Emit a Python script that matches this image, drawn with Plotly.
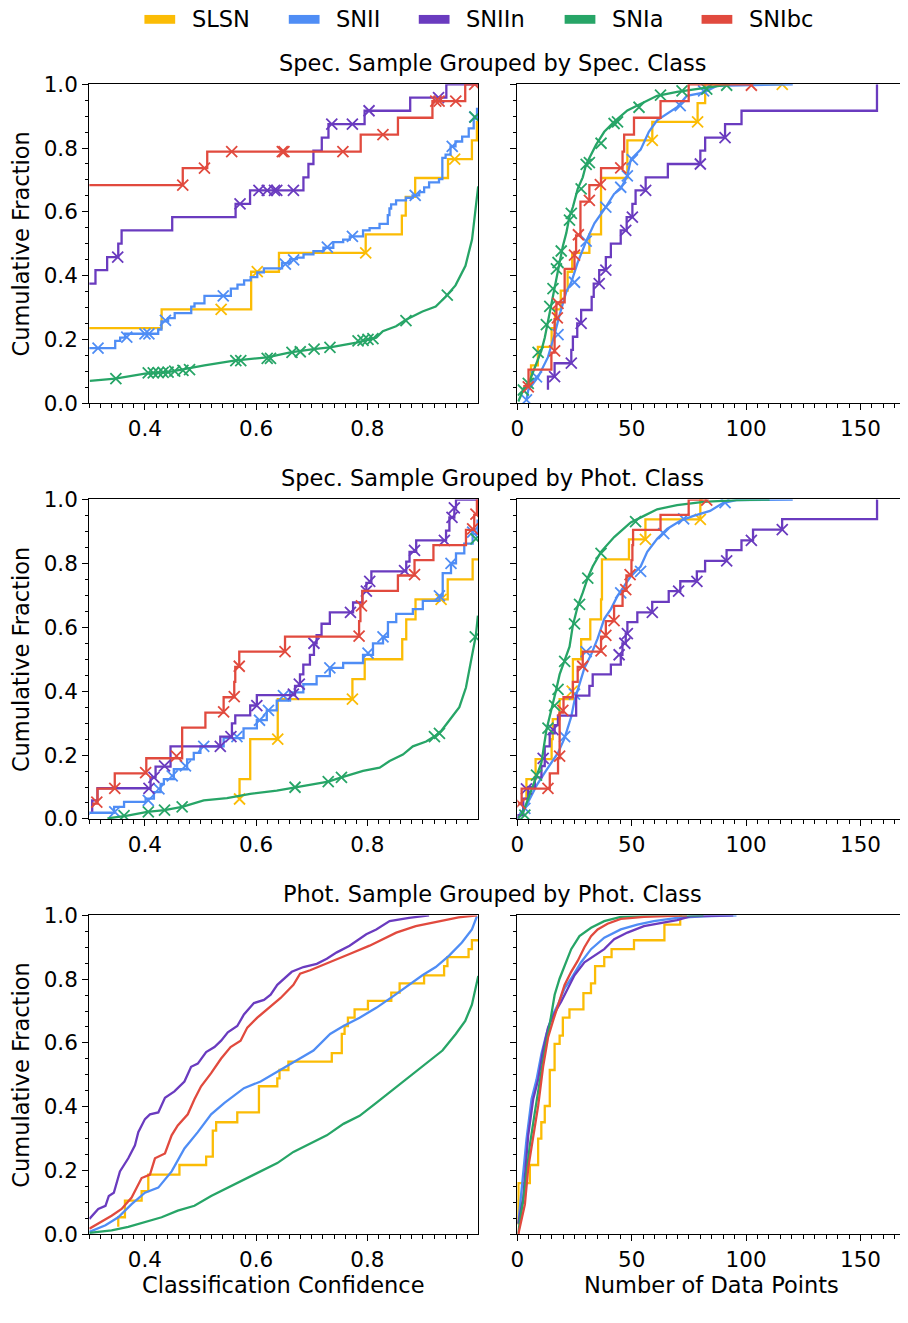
import plotly.graph_objects as go

# ---------------- categories / colours ----------------
CLASSES = ["SLSN", "SNII", "SNIIn", "SNIa", "SNIbc"]
COLORS = {"SLSN": "#FBBC05", "SNII": "#4F8DF5", "SNIIn": "#6A3BBF",
          "SNIa": "#27A567", "SNIbc": "#E14A3E"}
ROW_TITLES = ["Spec. Sample Grouped by Spec. Class",
              "Spec. Sample Grouped by Phot. Class",
              "Phot. Sample Grouped by Phot. Class"]
X_TITLES = ["Classification Confidence", "Number of Data Points"]
Y_TITLE = "Cumulative Fraction"
Y_TICKS = [0.0, 0.2, 0.4, 0.6, 0.8, 1.0]
CONF_TICKS = [0.4, 0.6, 0.8]
NPTS_TICKS = [0, 50, 100, 150]

# ================= Row 1, confidence (spec sample / spec class) =================
r1c_SLSN_x = [0.28, 0.430, 0.591, 0.591, 0.641, 0.797, 0.862, 0.869, 0.886, 0.945, 0.988, 0.997, 0.9995]
r1c_SLSN_y = [0.176, 0.235, 0.294, 0.353, 0.412, 0.471, 0.529, 0.588, 0.647, 0.706, 0.765, 0.824, 0.882]
r1c_SLSN_mx = [0.537, 0.602, 0.797, 0.957]
r1c_SLSN_my = [0.294, 0.412, 0.471, 0.765]

r1c_SNII_x = [0.28, 0.3465, 0.3554, 0.3643, 0.4238, 0.4297, 0.4416, 0.4535, 0.4832, 0.4891, 0.5070, 0.5545,
              0.5664, 0.5783, 0.5901, 0.6020, 0.6139, 0.6466, 0.6614, 0.6733, 0.6852, 0.7030, 0.7209, 0.7387,
              0.7565, 0.7684, 0.7922, 0.8040, 0.8219, 0.8367, 0.8397, 0.8427, 0.8516, 0.8694, 0.8813, 0.8932,
              0.9021, 0.9110, 0.9288, 0.9348, 0.9407, 0.9496, 0.9585, 0.9704, 0.9823, 0.9912, 0.9972, 0.9995]
r1c_SNII_y = [0.16, 0.1723, 0.1949, 0.2051, 0.2174, 0.2308, 0.2564, 0.2667, 0.2821, 0.3026, 0.3128, 0.3364,
              0.3590, 0.3713, 0.3846, 0.3949, 0.4103, 0.4226, 0.4390, 0.4513, 0.4564, 0.4667, 0.4769, 0.4872,
              0.5046, 0.5128, 0.5231, 0.5415, 0.5487, 0.5621, 0.5897, 0.6103, 0.6236, 0.6359, 0.6441, 0.6513,
              0.6615, 0.6769, 0.6923, 0.7026, 0.7692, 0.7795, 0.8051, 0.8205, 0.8359, 0.8615, 0.8923, 0.9231]
r1c_SNII_mx = [0.3156, 0.3673, 0.4, 0.4071, 0.4368, 0.5408, 0.6525, 0.6674, 0.7280, 0.7731, 0.8860, 0.9526, 0.9930]
r1c_SNII_my = [0.1723, 0.2072, 0.2174, 0.2174, 0.2595, 0.3364, 0.4359, 0.4492, 0.4892, 0.5231, 0.6513, 0.8051, 0.8974]

r1c_SNIIn_x = [0.28, 0.311, 0.332, 0.352, 0.358, 0.449, 0.563, 0.589, 0.685, 0.694, 0.703, 0.718, 0.730,
               0.795, 0.877, 0.942, 0.9995]
r1c_SNIIn_y = [0.333, 0.375, 0.417, 0.458, 0.5, 0.542, 0.583, 0.625, 0.667, 0.708, 0.75, 0.792, 0.833,
               0.875, 0.917, 0.958, 1.0]
r1c_SNIIn_mx = [0.351, 0.571, 0.605, 0.620, 0.633, 0.637, 0.667, 0.736, 0.773, 0.803, 0.928]
r1c_SNIIn_my = [0.458, 0.625, 0.667, 0.667, 0.667, 0.667, 0.667, 0.875, 0.875, 0.917, 0.958]

r1c_SNIa_x = [0.3008, 0.3465, 0.4, 0.4416, 0.5070, 0.5604, 0.6198, 0.6614, 0.7030, 0.7327, 0.7803, 0.8159,
              0.8278, 0.8516, 0.8694, 0.8991, 0.9229, 0.9407, 0.9585, 0.9764, 0.9882, 0.9941, 0.9977, 0.9993]
r1c_SNIa_y = [0.0697, 0.0769, 0.0923, 0.0974, 0.1179, 0.1333, 0.1436, 0.1590, 0.1692, 0.1744, 0.1897, 0.2051,
              0.2256, 0.2410, 0.2615, 0.2872, 0.3026, 0.3333, 0.3692, 0.4308, 0.5128, 0.5949, 0.6564, 0.68]
r1c_SNIa_mx = [0.3477, 0.4059, 0.4149, 0.4238, 0.4327, 0.4416, 0.4535, 0.4683, 0.4802, 0.5634, 0.5723,
               0.6198, 0.6258, 0.6644, 0.6793, 0.7042, 0.7327, 0.7832, 0.7922, 0.8011, 0.8100, 0.8694,
               0.9437, 0.9935]
r1c_SNIa_my = [0.0769, 0.0944, 0.0944, 0.0954, 0.0964, 0.0974, 0.1005, 0.1026, 0.1046, 0.1333, 0.1333,
               0.1405, 0.1405, 0.1590, 0.1610, 0.1692, 0.1744, 0.1949, 0.1969, 0.2000, 0.2021, 0.2585,
               0.3385, 0.897]

r1c_SNIbc_x = [0.28, 0.468, 0.512, 0.788, 0.855, 0.917, 0.976, 0.9995]
r1c_SNIbc_y = [0.632, 0.684, 0.737, 0.789, 0.842, 0.895, 0.947, 1.0]
r1c_SNIbc_mx = [0.468, 0.507, 0.556, 0.647, 0.650, 0.756, 0.828, 0.923, 0.929, 0.959, 0.993]
r1c_SNIbc_my = [0.684, 0.737, 0.789, 0.789, 0.789, 0.789, 0.842, 0.947, 0.947, 0.947, 1.0]

# ================= Row 1, number of points =================
r1n_SLSN_x = [3.5, 6.0, 9.0, 15.0, 16.5, 19.0, 22.0, 24.0, 31.5, 36.6, 36.6, 36.6, 48.1, 48.1, 59.0, 78.8, 82.1, 115.8]
r1n_SLSN_y = [0.059, 0.059, 0.118, 0.176, 0.235, 0.294, 0.353, 0.412, 0.471, 0.529, 0.588, 0.647, 0.706,
              0.765, 0.824, 0.882, 0.941, 1.0]
r1n_SLSN_mx = [59.0, 78.8, 115.8]
r1n_SLSN_my = [0.824, 0.882, 1.0]

r1n_SNII_x = [4.0, 4.8, 9.1, 13.4, 16.3, 18.5, 21.4, 23.6, 26.4, 30.1, 33.7, 38.7, 42.3, 45.2, 48.1, 49.6,
              53.9, 57.5, 61.1, 65.5, 69.8, 74.1, 81.4, 87.1, 120.4]
r1n_SNII_y = [0.01, 0.041, 0.082, 0.144, 0.215, 0.277, 0.349, 0.379, 0.441, 0.508, 0.564, 0.615, 0.656,
              0.672, 0.713, 0.764, 0.795, 0.851, 0.887, 0.908, 0.928, 0.964, 0.974, 0.995, 1.0]
r1n_SNII_mx = [4.0, 8.4, 17.8, 25.0, 30.1, 38.7, 45.2, 48.1, 50.3, 71.2, 81.4]
r1n_SNII_my = [0.01, 0.082, 0.215, 0.379, 0.508, 0.615, 0.677, 0.713, 0.764, 0.933, 0.979]

r1n_SNIIn_x = [13.4, 16.3, 23.6, 24.3, 26.2, 27.9, 32.5, 33.4, 35.8, 38.7, 40.9, 45.2, 47.8, 50.3, 51.7,
               56.1, 65.8, 80.0, 82.1, 90.8, 98.0, 157.2, 157.2, 157.2]
r1n_SNIIn_y = [0.042, 0.083, 0.125, 0.167, 0.208, 0.25, 0.292, 0.333, 0.375, 0.417, 0.458, 0.5, 0.542,
               0.583, 0.625, 0.667, 0.708, 0.75, 0.792, 0.833, 0.875, 0.917, 0.958, 1.0]
r1n_SNIIn_mx = [16.3, 23.6, 27.9, 35.8, 38.7, 47.4, 50.3, 56.1, 80.0, 90.8]
r1n_SNIIn_my = [0.083, 0.125, 0.25, 0.375, 0.417, 0.542, 0.583, 0.667, 0.75, 0.833]

r1n_SNIa_x = [0.43, 2.6, 5.5, 8.4, 10.5, 12.0, 13.4, 14.9, 16.3, 17.5, 18.5, 19.9, 21.4, 22.8, 24.3, 26.4,
              28.6, 30.1, 31.5, 34.4, 38.0, 42.3, 48.1, 53.9, 61.1, 69.8, 78.5, 87.1, 92.9]
r1n_SNIa_y = [0.005, 0.041, 0.072, 0.128, 0.164, 0.205, 0.256, 0.308, 0.359, 0.41, 0.451, 0.492, 0.533,
              0.585, 0.615, 0.672, 0.708, 0.749, 0.769, 0.81, 0.851, 0.882, 0.918, 0.938, 0.964, 0.976,
              0.985, 0.993, 1.0]
r1n_SNIa_mx = [2.6, 4.8, 9.1, 12.7, 14.2, 15.6, 17.1, 17.8, 19.2, 22.8, 23.6, 27.9, 30.1, 31.5, 36.6,
               42.3, 43.8, 53.2, 62.6, 72.0, 82.8, 91.5]
r1n_SNIa_my = [0.041, 0.062, 0.159, 0.246, 0.303, 0.359, 0.421, 0.441, 0.477, 0.574, 0.595, 0.672, 0.749,
               0.754, 0.815, 0.877, 0.882, 0.928, 0.966, 0.979, 0.985, 0.997]

r1n_SNIbc_x = [2.6, 4.9, 14.9, 16.3, 16.3, 17.1, 20.7, 20.7, 25.0, 25.7, 27.6, 27.6, 31.5, 36.6, 46.0,
               46.7, 51.0, 62.6, 74.9, 102.3]
r1n_SNIbc_y = [0.053, 0.053, 0.105, 0.158, 0.211, 0.263, 0.316, 0.368, 0.421, 0.474, 0.526, 0.579, 0.632,
               0.684, 0.737, 0.789, 0.842, 0.895, 0.947, 1.0]
r1n_SNIbc_mx = [4.8, 16.3, 17.5, 17.8, 25.0, 26.7, 31.5, 36.3, 45.2, 102.3]
r1n_SNIbc_my = [0.051, 0.164, 0.267, 0.313, 0.464, 0.528, 0.636, 0.685, 0.738, 0.997]

# ================= Row 2, confidence (spec sample / phot class) =================
r2c_SLSN_x = [0.5701, 0.5893, 0.5893, 0.6388, 0.6388, 0.7731, 0.7952, 0.8627, 0.8699, 0.8866, 0.9445, 0.9893, 0.9995]
r2c_SLSN_y = [0.0625, 0.125, 0.1875, 0.25, 0.3125, 0.375, 0.4375, 0.5, 0.5625, 0.625, 0.6875, 0.75, 0.8125]
r2c_SLSN_mx = [0.5701, 0.6388, 0.7731, 0.9326]
r2c_SLSN_my = [0.0625, 0.25, 0.375, 0.6875]

r2c_SNII_x = [0.299, 0.3445, 0.3624, 0.4012, 0.4161, 0.4281, 0.4340, 0.4519, 0.4758, 0.4878, 0.4997, 0.5415,
              0.5773, 0.6012, 0.6191, 0.6370, 0.6609, 0.6848, 0.7087, 0.7325, 0.7564, 0.7922, 0.8101, 0.8281,
              0.8370, 0.8519, 0.8818, 0.8997, 0.9296, 0.9355, 0.9504, 0.9594, 0.9743, 0.9893, 0.9982, 0.9995]
r2c_SNII_y = [0.0123, 0.0194, 0.0379, 0.0532, 0.0635, 0.0839, 0.1095, 0.1249, 0.1556, 0.1863, 0.2068, 0.2272,
              0.2528, 0.2835, 0.3091, 0.3398, 0.3705, 0.3961, 0.4217, 0.4473, 0.4729, 0.4882, 0.5138, 0.5496,
              0.5701, 0.6162, 0.6418, 0.6571, 0.6827, 0.6981, 0.7697, 0.8004, 0.8311, 0.8618, 0.8925, 0.9335]
r2c_SNII_mx = [0.3457, 0.406, 0.4251, 0.449, 0.4728, 0.5057, 0.5654, 0.606, 0.6221, 0.649, 0.7325, 0.8012,
               0.8281, 0.9296, 0.9504, 0.9893]
r2c_SNII_my = [0.0225, 0.058, 0.094, 0.135, 0.166, 0.227, 0.258, 0.309, 0.34, 0.386, 0.473, 0.519, 0.57,
               0.698, 0.8, 0.898]

r2c_SNIIn_x = [0.3051, 0.3146, 0.4101, 0.4191, 0.4460, 0.5355, 0.5564, 0.5624, 0.5893, 0.6012, 0.6699, 0.6788,
               0.6848, 0.6967, 0.7039, 0.7087, 0.7176, 0.7325, 0.7743, 0.7910, 0.7982, 0.8072, 0.8699, 0.8758,
               0.8878, 0.9415, 0.9475, 0.9564, 0.9594, 0.9995]
r2c_SNIIn_y = [0.0225, 0.0583, 0.0962, 0.1300, 0.1638, 0.2272, 0.2579, 0.2989, 0.3245, 0.3552, 0.3879, 0.4166,
               0.4524, 0.4831, 0.5138, 0.5496, 0.5752, 0.6111, 0.6469, 0.6776, 0.7134, 0.7390, 0.7748, 0.8055,
               0.8362, 0.8721, 0.9028, 0.9437, 0.9744, 1.0]
r2c_SNIIn_mx = [0.4072, 0.4161, 0.4352, 0.5355, 0.5546, 0.6012, 0.6669, 0.6776, 0.7039, 0.7696, 0.7982,
                0.8042, 0.8669, 0.8848, 0.9385, 0.9522, 0.9564]
r2c_SNIIn_my = [0.096, 0.130, 0.166, 0.227, 0.258, 0.355, 0.391, 0.422, 0.550, 0.647, 0.713, 0.744, 0.777,
                0.841, 0.872, 0.944, 0.974]

r2c_SNIa_x = [0.3325, 0.3684, 0.4042, 0.4352, 0.4669, 0.5057, 0.5475, 0.5893, 0.6370, 0.6699, 0.7087, 0.7296,
              0.7534, 0.7922, 0.8221, 0.8400, 0.8639, 0.8818, 0.9057, 0.9296, 0.9475, 0.9654, 0.9773, 0.9893,
              0.9952, 0.9988]
r2c_SNIa_y = [0.002, 0.0102, 0.0225, 0.0276, 0.0379, 0.0583, 0.0655, 0.0788, 0.0890, 0.0993, 0.1095, 0.1167,
              0.1300, 0.1505, 0.1607, 0.1812, 0.2016, 0.2272, 0.2426, 0.2682, 0.3091, 0.3501, 0.4115, 0.5138,
              0.5752, 0.6366]
r2c_SNIa_mx = [0.3624, 0.406, 0.4352, 0.4669, 0.6699, 0.7296, 0.7534, 0.9206, 0.9296, 0.994, 0.9952]
r2c_SNIa_my = [0.0102, 0.0225, 0.0276, 0.0379, 0.0993, 0.1167, 0.13, 0.2579, 0.2682, 0.5701, 0.877]

r2c_SNIbc_x = [0.305, 0.3146, 0.3457, 0.4024, 0.4669, 0.4669, 0.5087, 0.5415, 0.5606, 0.5624, 0.5696, 0.6519,
               0.7851, 0.7875, 0.7910, 0.8549, 0.8848, 0.9188, 0.9773, 0.9922, 0.9970, 0.9995]
r2c_SNIbc_y = [0.048, 0.048, 0.095, 0.143, 0.190, 0.238, 0.286, 0.333, 0.381, 0.429, 0.476, 0.524, 0.571,
               0.619, 0.667, 0.714, 0.762, 0.810, 0.857, 0.905, 0.952, 1.0]
r2c_SNIbc_mx = [0.3134, 0.3457, 0.4012, 0.4567, 0.5415, 0.5606, 0.5696, 0.6519, 0.7851, 0.7893, 0.8848,
                0.9893, 0.9952]
r2c_SNIbc_my = [0.053, 0.096, 0.145, 0.197, 0.335, 0.383, 0.478, 0.524, 0.572, 0.667, 0.765, 0.908, 0.954]

# ================= Row 2, number of points =================
r2n_SLSN_x = [3.0, 4.0, 8.0, 15.0, 15.5, 18.5, 24.3, 24.3, 27.9, 31.9, 36.6, 37.0, 37.0, 48.8, 56.0, 80.0, 81.0]
r2n_SLSN_y = [0.0625, 0.0625, 0.125, 0.1875, 0.25, 0.3125, 0.375, 0.4375, 0.5, 0.5625, 0.625, 0.6875, 0.75,
              0.8125, 0.875, 0.9375, 1.0]
r2n_SLSN_mx = [24.0, 56.0, 80.0]
r2n_SLSN_my = [0.40, 0.875, 0.9375]

r2n_SNII_x = [1.16, 3.32, 5.49, 8.38, 11.99, 14.88, 17.77, 20.66, 23.55, 25.0, 27.17, 29.34, 32.23, 35.12,
              38.01, 40.9, 43.79, 46.68, 49.57, 53.9, 56.79, 61.13, 65.46, 71.24, 77.02, 84.25, 90.03, 95.81, 120.38]
r2n_SNII_y = [0.0072, 0.0328, 0.0635, 0.1044, 0.1453, 0.1760, 0.2068, 0.2528, 0.3193, 0.3705, 0.4217, 0.4729,
              0.5138, 0.5650, 0.6264, 0.6571, 0.6981, 0.7288, 0.7595, 0.7902, 0.8362, 0.8772, 0.9079, 0.9335,
              0.9488, 0.9642, 0.9898, 0.998, 1.0]
r2n_SNII_mx = [3.3, 20.7, 25.0, 30.1, 45.2, 53.9, 64.0, 72.7, 90.8]
r2n_SNII_my = [0.033, 0.258, 0.391, 0.524, 0.708, 0.775, 0.893, 0.939, 0.99]

r2n_SNIIn_x = [0.43, 2.6, 4.77, 7.66, 10.55, 11.99, 14.16, 16.33, 17.77, 25.72, 31.5, 32.95, 40.9, 45.23,
               45.95, 47.4, 48.12, 52.46, 58.96, 66.18, 71.24, 78.47, 82.08, 91.47, 97.98, 103.03, 115.75,
               157.23, 157.4]
r2n_SNIIn_y = [0.0, 0.0123, 0.0635, 0.0993, 0.13, 0.1658, 0.2272, 0.2682, 0.2938, 0.3234, 0.3859, 0.4166,
               0.4524, 0.4831, 0.5138, 0.5496, 0.5804, 0.6162, 0.6469, 0.6796, 0.7134, 0.7441, 0.7748, 0.8076,
               0.8414, 0.8721, 0.9058, 0.9386, 1.0]
r2n_SNIIn_mx = [4.0, 11.3, 15.6, 44.5, 47.0, 48.1, 59.0, 70.5, 78.5, 91.5, 102.3, 115.8]
r2n_SNIIn_my = [0.094, 0.19, 0.28, 0.514, 0.55, 0.58, 0.647, 0.713, 0.744, 0.808, 0.872, 0.906]

r2n_SNIa_x = [0.43, 2.6, 4.77, 8.38, 10.55, 12.72, 14.88, 17.05, 18.5, 20.66, 22.83, 24.28, 26.45, 28.61,
              30.78, 32.95, 36.56, 42.34, 49.57, 55.35, 61.13, 69.8, 81.36, 95.81, 110.26]
r2n_SNIa_y = [0.002, 0.0225, 0.0635, 0.1351, 0.176, 0.2784, 0.3398, 0.4063, 0.4524, 0.4985, 0.5394, 0.6059,
              0.6674, 0.7083, 0.7544, 0.7902, 0.8362, 0.8823, 0.9284, 0.9488, 0.9693, 0.9826, 0.9928, 0.998, 1.0]
r2n_SNIa_mx = [3.3, 8.4, 13.4, 16.3, 17.8, 20.7, 25.0, 27.2, 30.8, 36.6, 51.7]
r2n_SNIa_my = [0.012, 0.137, 0.284, 0.355, 0.406, 0.493, 0.611, 0.672, 0.754, 0.831, 0.931]

r2n_SNIbc_x = [0.4, 1.9, 14.2, 17.8, 18.5, 18.5, 18.5, 20.2, 24.3, 26.4, 28.6, 36.6, 38.7, 42.3, 46.0, 47.7,
               49.9, 50.3, 50.6, 62.6, 74.9, 82.8]
r2n_SNIbc_y = [0.048, 0.048, 0.095, 0.143, 0.190, 0.238, 0.286, 0.333, 0.381, 0.429, 0.476, 0.524, 0.571,
               0.619, 0.667, 0.714, 0.762, 0.810, 0.857, 0.905, 0.952, 1.0]
r2n_SNIbc_mx = [1.2, 13.4, 18.5, 19.9, 28.6, 36.6, 38.7, 42.3, 47.4, 49.3, 82.8]
r2n_SNIbc_my = [0.048, 0.096, 0.197, 0.340, 0.478, 0.526, 0.575, 0.621, 0.718, 0.765, 0.998]

# ================= Row 3, confidence (phot sample / phot class) =================
r3c_SLSN_x = [0.352, 0.364, 0.394, 0.406, 0.462, 0.51, 0.522, 0.528, 0.566, 0.605, 0.638, 0.642, 0.658, 0.736,
              0.754, 0.759, 0.765, 0.777, 0.801, 0.843, 0.858, 0.902, 0.938, 0.944, 0.982, 0.988, 0.9995]
r3c_SLSN_y = [0.023, 0.053, 0.105, 0.135, 0.187, 0.217, 0.243, 0.325, 0.351, 0.382, 0.464, 0.489, 0.515,
              0.541, 0.568, 0.628, 0.653, 0.679, 0.705, 0.732, 0.758, 0.787, 0.812, 0.841, 0.869, 0.894, 0.922]

r3c_SNII_x = [0.3, 0.329, 0.352, 0.376, 0.4, 0.424, 0.448, 0.471, 0.495, 0.519, 0.543, 0.578, 0.608, 0.638,
              0.667, 0.703, 0.733, 0.757, 0.786, 0.816, 0.846, 0.875, 0.899, 0.923, 0.947, 0.97, 0.988, 0.997]
r3c_SNII_y = [0.007, 0.028, 0.053, 0.094, 0.13, 0.146, 0.197, 0.269, 0.32, 0.376, 0.412, 0.458, 0.479, 0.51,
              0.541, 0.576, 0.628, 0.653, 0.679, 0.71, 0.746, 0.782, 0.812, 0.838, 0.874, 0.915, 0.956, 0.997]

r3c_SNIIn_x = [0.3, 0.316, 0.329, 0.335, 0.344, 0.355, 0.37, 0.382, 0.388, 0.4, 0.409, 0.424, 0.436, 0.453,
               0.471, 0.483, 0.495, 0.51, 0.525, 0.537, 0.549, 0.566, 0.578, 0.596, 0.614, 0.626, 0.638, 0.653,
               0.664, 0.685, 0.709, 0.727, 0.745, 0.768, 0.786, 0.798, 0.816, 0.84, 0.875, 0.911]
r3c_SNIIn_y = [0.048, 0.079, 0.089, 0.12, 0.13, 0.197, 0.238, 0.279, 0.32, 0.361, 0.376, 0.382, 0.428, 0.448,
               0.479, 0.525, 0.535, 0.571, 0.587, 0.607, 0.633, 0.653, 0.689, 0.725, 0.735, 0.751, 0.782, 0.807,
               0.823, 0.838, 0.848, 0.864, 0.884, 0.905, 0.925, 0.941, 0.956, 0.982, 0.992, 1.0]

r3c_SNIa_x = [0.3, 0.34, 0.37, 0.4, 0.43, 0.459, 0.489, 0.519, 0.549, 0.578, 0.608, 0.638, 0.667, 0.697,
              0.727, 0.757, 0.786, 0.816, 0.846, 0.875, 0.905, 0.935, 0.959, 0.976, 0.988, 0.994, 0.9995]
r3c_SNIa_y = [0.004, 0.012, 0.023, 0.038, 0.053, 0.074, 0.089, 0.12, 0.146, 0.171, 0.199, 0.223, 0.258, 0.284,
              0.31, 0.346, 0.371, 0.412, 0.453, 0.494, 0.535, 0.576, 0.628, 0.669, 0.72, 0.77, 0.81]

r3c_SNIbc_x = [0.3, 0.316, 0.34, 0.358, 0.376, 0.394, 0.409, 0.418, 0.436, 0.448, 0.459, 0.477, 0.489, 0.501,
               0.519, 0.537, 0.554, 0.572, 0.584, 0.602, 0.62, 0.644, 0.667, 0.679, 0.697, 0.733, 0.768, 0.804,
               0.828, 0.852, 0.887, 0.923, 0.964, 0.997]
r3c_SNIbc_y = [0.017, 0.033, 0.058, 0.079, 0.115, 0.176, 0.187, 0.238, 0.253, 0.31, 0.341, 0.376, 0.423,
               0.464, 0.505, 0.551, 0.587, 0.607, 0.648, 0.679, 0.705, 0.741, 0.782, 0.817, 0.828, 0.853,
               0.879, 0.905, 0.925, 0.946, 0.966, 0.979, 0.994, 1.0]

# ================= Row 3, number of points =================
r3n_SLSN_x = [0.4, 0.5, 5.5, 9.1, 10.5, 12.0, 14.2, 16.3, 18.5, 19.9, 22.8, 28.9, 32.2, 34.0, 38.0, 41.2,
              51.0, 64.3, 71.2, 72.0]
r3n_SLSN_y = [0.03, 0.105, 0.16, 0.217, 0.3, 0.351, 0.402, 0.515, 0.597, 0.623, 0.679, 0.705, 0.756, 0.787,
              0.841, 0.869, 0.894, 0.922, 0.971, 1.0]

r3n_SNII_x = [0.43, 1.88, 4.05, 6.22, 8.38, 10.55, 12.72, 14.88, 17.77, 20.66, 23.55, 27.89, 32.23, 38.01,
              45.23, 52.46, 59.68, 69.8, 81.36, 95.81]
r3n_SNII_y = [0.033, 0.146, 0.3, 0.423, 0.484, 0.566, 0.628, 0.679, 0.72, 0.771, 0.802, 0.853, 0.894, 0.93,
              0.956, 0.971, 0.982, 0.992, 0.997, 1.0]

r3n_SNIIn_x = [0.43, 2.6, 4.77, 6.94, 9.1, 11.27, 13.44, 16.33, 19.22, 22.11, 25.0, 29.34, 33.67, 38.01,
               42.34, 48.12, 55.35, 62.57, 69.8, 75.58, 94.36]
r3n_SNIIn_y = [0.033, 0.115, 0.31, 0.423, 0.484, 0.576, 0.648, 0.694, 0.73, 0.771, 0.812, 0.853, 0.874, 0.894,
               0.925, 0.946, 0.966, 0.976, 0.985, 0.997, 1.0]

r3n_SNIa_x = [0.43, 1.16, 2.6, 4.05, 5.49, 7.66, 9.83, 11.99, 14.16, 16.33, 18.5, 20.66, 23.55, 27.17, 32.23,
              38.01, 45.23, 59.68, 81.36]
r3n_SNIa_y = [0.002, 0.043, 0.105, 0.197, 0.279, 0.382, 0.484, 0.576, 0.658, 0.751, 0.802, 0.843, 0.894,
              0.935, 0.961, 0.982, 0.995, 0.999, 1.0]

r3n_SNIbc_x = [0.43, 1.88, 3.32, 4.77, 6.94, 9.1, 11.27, 13.44, 15.61, 18.5, 20.66, 23.55, 26.45, 29.34,
               32.23, 35.12, 39.45, 45.23, 55.35, 74.13]
r3n_SNIbc_y = [0.0, 0.053, 0.094, 0.207, 0.3, 0.402, 0.525, 0.617, 0.669, 0.73, 0.782, 0.823, 0.858, 0.9,
               0.935, 0.956, 0.974, 0.989, 0.995, 1.0]

# ---------------- assemble panels ----------------
PANELS = [
    ("r1c", {"SLSN": (r1c_SLSN_x, r1c_SLSN_y, r1c_SLSN_mx, r1c_SLSN_my, "vh"),
             "SNII": (r1c_SNII_x, r1c_SNII_y, r1c_SNII_mx, r1c_SNII_my, "vh"),
             "SNIIn": (r1c_SNIIn_x, r1c_SNIIn_y, r1c_SNIIn_mx, r1c_SNIIn_my, "vh"),
             "SNIa": (r1c_SNIa_x, r1c_SNIa_y, r1c_SNIa_mx, r1c_SNIa_my, "linear"),
             "SNIbc": (r1c_SNIbc_x, r1c_SNIbc_y, r1c_SNIbc_mx, r1c_SNIbc_my, "vh")}),
    ("r1n", {"SLSN": (r1n_SLSN_x, r1n_SLSN_y, r1n_SLSN_mx, r1n_SLSN_my, "vh"),
             "SNII": (r1n_SNII_x, r1n_SNII_y, r1n_SNII_mx, r1n_SNII_my, "linear"),
             "SNIIn": (r1n_SNIIn_x, r1n_SNIIn_y, r1n_SNIIn_mx, r1n_SNIIn_my, "vh"),
             "SNIa": (r1n_SNIa_x, r1n_SNIa_y, r1n_SNIa_mx, r1n_SNIa_my, "linear"),
             "SNIbc": (r1n_SNIbc_x, r1n_SNIbc_y, r1n_SNIbc_mx, r1n_SNIbc_my, "vh")}),
    ("r2c", {"SLSN": (r2c_SLSN_x, r2c_SLSN_y, r2c_SLSN_mx, r2c_SLSN_my, "vh"),
             "SNII": (r2c_SNII_x, r2c_SNII_y, r2c_SNII_mx, r2c_SNII_my, "vh"),
             "SNIIn": (r2c_SNIIn_x, r2c_SNIIn_y, r2c_SNIIn_mx, r2c_SNIIn_my, "vh"),
             "SNIa": (r2c_SNIa_x, r2c_SNIa_y, r2c_SNIa_mx, r2c_SNIa_my, "linear"),
             "SNIbc": (r2c_SNIbc_x, r2c_SNIbc_y, r2c_SNIbc_mx, r2c_SNIbc_my, "vh")}),
    ("r2n", {"SLSN": (r2n_SLSN_x, r2n_SLSN_y, r2n_SLSN_mx, r2n_SLSN_my, "vh"),
             "SNII": (r2n_SNII_x, r2n_SNII_y, r2n_SNII_mx, r2n_SNII_my, "linear"),
             "SNIIn": (r2n_SNIIn_x, r2n_SNIIn_y, r2n_SNIIn_mx, r2n_SNIIn_my, "vh"),
             "SNIa": (r2n_SNIa_x, r2n_SNIa_y, r2n_SNIa_mx, r2n_SNIa_my, "linear"),
             "SNIbc": (r2n_SNIbc_x, r2n_SNIbc_y, r2n_SNIbc_mx, r2n_SNIbc_my, "vh")}),
    ("r3c", {"SLSN": (r3c_SLSN_x, r3c_SLSN_y, [], [], "vh"),
             "SNII": (r3c_SNII_x, r3c_SNII_y, [], [], "linear"),
             "SNIIn": (r3c_SNIIn_x, r3c_SNIIn_y, [], [], "linear"),
             "SNIa": (r3c_SNIa_x, r3c_SNIa_y, [], [], "linear"),
             "SNIbc": (r3c_SNIbc_x, r3c_SNIbc_y, [], [], "linear")}),
    ("r3n", {"SLSN": (r3n_SLSN_x, r3n_SLSN_y, [], [], "vh"),
             "SNII": (r3n_SNII_x, r3n_SNII_y, [], [], "linear"),
             "SNIIn": (r3n_SNIIn_x, r3n_SNIIn_y, [], [], "linear"),
             "SNIa": (r3n_SNIa_x, r3n_SNIa_y, [], [], "linear"),
             "SNIbc": (r3n_SNIbc_x, r3n_SNIbc_y, [], [], "linear")}),
]

# ---------------- geometry ----------------
# The page body keeps its default 8px margin, so the figure is sized to fit
# exactly inside the 908x1323 window; page positions are shifted by OFF.
OFF = 8
W, H = 900, 1307


def px(xpage):
    return (xpage - OFF) / W


def py(ypage):
    return 1 - (ypage - OFF) / H


X_DOM = {"c": [px(91), px(483)], "n": [px(522.3), 1.0]}
ROW_PX = [(81.7, 406.7), (505.0, 830.7), (929.0, 1254.0)]
Y_DOM = [[py(b), py(t)] for t, b in ROW_PX]
X_RANGE = {"c": [0.3, 0.9995], "n": [0, 167.26]}

FONT = "DejaVu Sans"
fig = go.Figure()

for i, (name, curves) in enumerate(PANELS):
    k = i + 1
    xa = "x" if k == 1 else f"x{k}"
    ya = "y" if k == 1 else f"y{k}"
    for cls in CLASSES:
        xs, ys, mx, my, shape = curves[cls]
        col = COLORS[cls]
        fig.add_trace(go.Scatter(x=xs, y=ys, mode="lines", xaxis=xa, yaxis=ya,
                                 line=dict(color=col, width=2.3, shape=shape),
                                 showlegend=False, hoverinfo="skip"))
        if mx:
            fig.add_trace(go.Scatter(x=mx, y=my, mode="markers", xaxis=xa, yaxis=ya,
                                     marker=dict(symbol="x-thin", size=11, color=col,
                                                 line=dict(width=1.8, color=col)),
                                     showlegend=False, hoverinfo="skip"))

layout = dict(width=W, height=H, margin=dict(l=0, r=0, t=0, b=0),
              paper_bgcolor="white", plot_bgcolor="white", showlegend=False,
              font=dict(family=FONT, size=21.5, color="black"))

for i, (name, curves) in enumerate(PANELS):
    k = i + 1
    row = i // 2
    kind = name[-1]
    xkey = "xaxis" if k == 1 else f"xaxis{k}"
    ykey = "yaxis" if k == 1 else f"yaxis{k}"
    ya = "y" if k == 1 else f"y{k}"
    xa = "x" if k == 1 else f"x{k}"
    if kind == "c":
        xticks = dict(tickvals=CONF_TICKS, ticktext=[f"{v:.1f}" for v in CONF_TICKS])
        minor_dt = 0.02
    else:
        xticks = dict(tickvals=NPTS_TICKS, ticktext=[str(v) for v in NPTS_TICKS])
        minor_dt = 5
    layout[xkey] = dict(domain=X_DOM[kind], range=X_RANGE[kind], anchor=ya,
                        showline=True, linecolor="black", linewidth=1.3, mirror=True,
                        ticks="outside", ticklen=6, tickwidth=1.3, tickcolor="black",
                        tickmode="array", **xticks,
                        minor=dict(ticks="outside", ticklen=3.5, tickwidth=1.1, tickcolor="black",
                                   dtick=minor_dt, tick0=0, showgrid=False),
                        showgrid=False, zeroline=False,
                        tickfont=dict(family=FONT, size=21.5, color="black"))
    layout[ykey] = dict(domain=Y_DOM[row], range=[0, 1], anchor=xa,
                        showline=True, linecolor="black", linewidth=1.3, mirror=(kind == "c"),
                        ticks="outside", ticklen=6, tickwidth=1.3, tickcolor="black",
                        tickmode="array", tickvals=Y_TICKS,
                        ticktext=[f"{v:.1f}" for v in Y_TICKS],
                        showticklabels=(kind == "c"),
                        minor=dict(ticks="outside", ticklen=3.5, tickwidth=1.1, tickcolor="black",
                                   dtick=0.05, tick0=0, showgrid=False),
                        showgrid=False, zeroline=False,
                        tickfont=dict(family=FONT, size=21.5, color="black"))

annotations = []
shapes = []
TXT = dict(family=FONT, size=22.5, color="black")
for row, title in enumerate(ROW_TITLES):
    top_px = ROW_PX[row][0]
    annotations.append(dict(text=title, x=px(497), y=py(top_px - 22), xref="paper", yref="paper",
                            xanchor="center", yanchor="middle", showarrow=False, font=TXT))
    annotations.append(dict(text=Y_TITLE, x=px(22), y=sum(Y_DOM[row]) / 2, xref="paper", yref="paper",
                            xanchor="center", yanchor="middle", showarrow=False, textangle=-90, font=TXT))
annotations.append(dict(text=X_TITLES[0], x=px(287), y=py(1306), xref="paper", yref="paper",
                        xanchor="center", yanchor="middle", showarrow=False, font=TXT))
annotations.append(dict(text=X_TITLES[1], x=px(718), y=py(1306), xref="paper", yref="paper",
                        xanchor="center", yanchor="middle", showarrow=False, font=TXT))

# legend (manual, top row)
LEG_PATCH_X = [146.5, 292.0, 423.0, 570.0, 708.0]
LEG_Y = 15.5
for cls, lx in zip(CLASSES, LEG_PATCH_X):
    shapes.append(dict(type="rect", xref="paper", yref="paper",
                       x0=px(lx), x1=px(lx + 31), y0=py(LEG_Y + 4.5), y1=py(LEG_Y - 4.5),
                       fillcolor=COLORS[cls], line=dict(width=0)))
    annotations.append(dict(text=cls, x=px(lx + 45.5), y=py(LEG_Y), xref="paper", yref="paper",
                            xanchor="left", yanchor="middle", showarrow=False, font=TXT))

layout["annotations"] = annotations
layout["shapes"] = shapes
fig.update_layout(**layout)
fig.write_html("out.html")
